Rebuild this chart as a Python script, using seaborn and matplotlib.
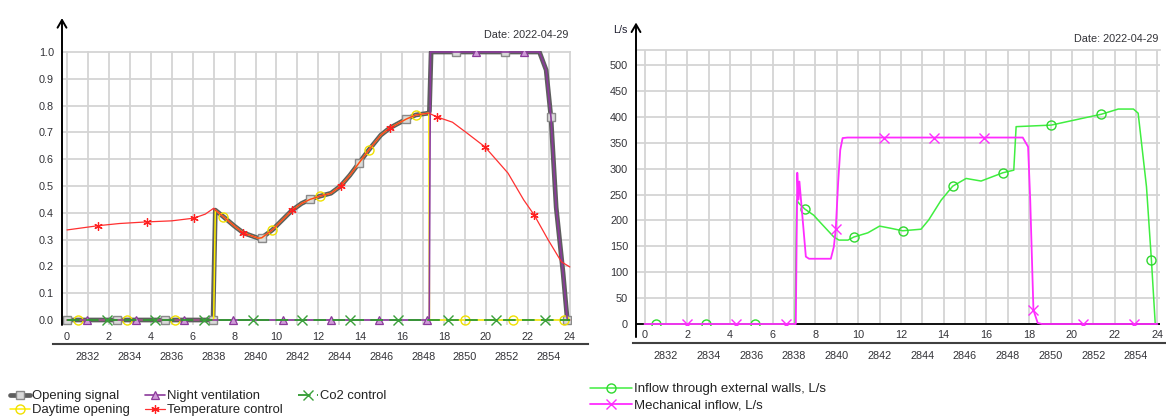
import numpy as np
import matplotlib
matplotlib.use("Agg")
import matplotlib.pyplot as plt
from matplotlib.lines import Line2D
import seaborn as sns

# ---------------- data ----------------
date_label = "Date: 2022-04-29"
hour_ticks = list(range(0, 25, 2))
hour_grid = list(range(0, 25))
hoy_offset = 2831
hoy_ticks = list(range(2832, 2855, 2))
left_yticks = [0.0, 0.1, 0.2, 0.3, 0.4, 0.5, 0.6, 0.7, 0.8, 0.9, 1.0]
right_yticks = [0, 50, 100, 150, 200, 250, 300, 350, 400, 450, 500]
right_unit = "L/s"

left_labels = ["Opening signal", "Daytime opening", "Night ventilation",
               "Temperature control", "Co2 control"]
right_labels = ["Inflow through external walls, L/s", "Mechanical inflow, L/s"]

# shared part of the opening curve (hours 7..17.3)
curve_h = [7.08, 7.47, 8.0, 8.42, 9.14, 9.3, 9.8, 10.3, 10.75, 11.2, 11.6, 12.07,
           12.6, 13.06, 13.5, 13.93, 14.4, 14.98, 15.4, 16.2, 16.65, 17.27]
curve_v = [0.41, 0.385, 0.35, 0.325, 0.305, 0.307, 0.336, 0.375, 0.41, 0.435, 0.45,
           0.462, 0.473, 0.50, 0.54, 0.585, 0.634, 0.69, 0.716, 0.75, 0.765, 0.772]

opening_h = [0.0, 2.37, 4.67, 6.97] + curve_h + [17.3, 17.38, 18.55, 20.9, 22.55,
                                                  22.87, 23.1, 23.35, 23.68, 23.88, 24.0]
opening_v = [0, 0, 0, 0] + curve_v + [0.78, 1.0, 1.0, 1.0, 1.0,
                                      0.933, 0.757, 0.42, 0.175, 0.0, 0.0]
opening_mark_h = [0.0, 2.37, 4.67, 6.97, 9.3, 11.6, 13.93, 16.2, 18.55, 20.9, 23.1, 23.88]

daytime_h = [0.0, 0.54, 2.86, 5.15, 7.0] + curve_h + [17.3, 19.0, 21.3, 23.7, 24.0]
daytime_v = [0, 0, 0, 0, 0] + curve_v + [0, 0, 0, 0, 0]
daytime_mark_h = [0.54, 2.86, 5.15, 7.47, 9.8, 12.07, 14.4, 16.65, 19.0, 21.3, 23.7]

night_h = [0.0, 0.97, 3.3, 5.6, 7.93, 10.3, 12.6, 14.9, 17.2, 17.29, 17.35, 19.5,
           21.8, 22.55, 22.87, 23.1, 23.35, 23.68, 23.88, 24.0]
night_v = [0, 0, 0, 0, 0, 0, 0, 0, 0, 0, 1.0, 1.0, 1.0, 1.0, 0.933, 0.757, 0.42,
           0.175, 0.0, 0.0]
night_mark_h = [0.97, 3.3, 5.6, 7.93, 10.3, 12.6, 14.9, 17.2, 19.5, 21.8]

temp_h = [0.0, 1.5, 2.5, 3.8, 5.0, 6.05, 6.6, 7.0] + curve_h + [
    17.65, 18.4, 19.1, 19.95, 21.05, 21.8, 22.3, 22.96, 23.6, 24.0]
temp_v = [0.336, 0.352, 0.36, 0.366, 0.37, 0.38, 0.395, 0.417] + curve_v + [
    0.758, 0.738, 0.697, 0.646, 0.548, 0.448, 0.392, 0.30, 0.217, 0.198]
temp_mark_h = [1.5, 3.8, 6.05, 8.42, 10.75, 13.06, 15.4, 17.65, 19.95, 22.3]

co2_h = [0.0, 1.93, 4.2, 6.55, 8.87, 11.2, 13.5, 15.8, 18.2, 20.5, 22.8, 24.0]
co2_v = [0] * 12
co2_mark_h = [1.93, 4.2, 6.55, 8.87, 11.2, 13.5, 15.8, 18.2, 20.5, 22.8]

walls_h = [0.0, 0.52, 2.86, 5.16, 7.05, 7.12, 7.25, 7.5, 7.92, 8.25, 8.86, 9.1, 9.52,
           9.8, 10.45, 11.0, 11.5, 12.08, 12.94, 13.3, 13.88, 14.42, 15.05, 15.75,
           16.77, 17.28, 17.39, 19.03, 21.38, 22.17, 22.88, 23.1, 23.49, 23.72, 23.9]
walls_v = [0, 0, 0, 0, 0, 239, 232, 222, 210, 195, 168, 162, 162, 168, 176, 189, 185,
           180, 183, 201, 239, 266, 281, 276, 292, 297, 381, 384, 405, 415, 415, 407,
           265, 124, 0]
walls_mark_h = [0.52, 2.86, 5.16, 7.5, 9.8, 12.08, 14.42, 16.77, 19.03, 21.38, 23.72]

mech_h = [0.0, 1.97, 4.27, 6.6, 7.08, 7.15, 7.2, 7.25, 7.55, 7.7, 8.72, 8.86, 8.95,
          9.06, 9.16, 9.27, 9.5, 11.2, 13.55, 15.9, 17.7, 17.95, 18.05, 18.2, 18.4,
          18.6, 20.5, 22.9, 24.0]
mech_v = [0, 0, 0, 0, 0, 292, 240, 275, 130, 126, 126, 149, 183, 272, 336, 359, 360,
          360, 360, 360, 360, 342, 239, 27, 2, 0, 0, 0, 0]
mech_mark_h = [1.97, 4.27, 6.6, 8.95, 11.2, 13.55, 15.9, 18.2, 20.5, 22.9]

# ---------------- styling ----------------
sns.set_style("white")
plt.rcParams["font.family"] = ["Liberation Sans", "DejaVu Sans"]
TXT = "#333338"
GRID = "#d4d4d4"
W, H = 1166, 417
fig = plt.figure(figsize=(W / 100, H / 100), dpi=100)


def fx(px):
    return px / W


def fy(py):
    return 1 - py / H


def marks(hs, mh):
    return [hs.index(t) for t in mh]


STY = {
    "opening": dict(color="#5e5e5e", lw=3.4, marker="s", ms=6, mfc="#d9d9d9",
                    mec="#8a8a8a", mew=1.0, zorder=3),
    "daytime": dict(color="#ffee00", lw=1.1, marker="o", ms=6.5, mfc="none",
                    mec="#f0e000", mew=1.0, zorder=4),
    "night": dict(color="#8b3a9b", lw=1.2, marker="^", ms=5.5, mfc="#cf9ad8",
                  mec="#8b3a9b", mew=0.9, zorder=5),
    "temp": dict(color="#ff3030", lw=0.9, marker=(6, 2, 0), ms=6, mfc="#ff2020",
                 mec="#ff2020", mew=0.9, zorder=6),
    "co2": dict(color="#2f9a2f", lw=1.3, ls=(0, (7, 3.5)), marker="x", ms=6.5,
                mec="#3aa03a", mew=1.0, zorder=7),
    "walls": dict(color="#40ee40", lw=1.1, marker="o", ms=6.5, mfc="none",
                  mec="#30d830", mew=1.0, zorder=4),
    "mech": dict(color="#ff2cff", lw=1.3, marker="x", ms=6.5, mec="#ff2cff",
                 mew=1.0, zorder=5),
}

# ---------------- left panel ----------------
axL = fig.add_axes([fx(62), fy(325), fx(571) - fx(62), fy(51) - fy(325)])
h0L, sL = 67, 20.95
axL.set_xlim((62 - h0L) / sL, (571 - h0L) / sL)
axL.set_ylim(-5 / 268, 1 + 1 / 268)

series_left = [
    (opening_h, opening_v, opening_mark_h, "opening"),
    (daytime_h, daytime_v, daytime_mark_h, "daytime"),
    (night_h, night_v, night_mark_h, "night"),
    (temp_h, temp_v, temp_mark_h, "temp"),
    (co2_h, co2_v, co2_mark_h, "co2"),
]
for hs, vs, mh, key in series_left:
    st = dict(STY[key])
    z = st.pop("zorder")
    sns.lineplot(x=hs, y=vs, ax=axL, estimator=None, sort=False,
                 markevery=marks(hs, mh), zorder=z, **st)

# ---------------- right panel ----------------
axR = fig.add_axes([fx(636), fy(325), fx(1160) - fx(636), fy(50) - fy(325)])
h0R, sR = 644.5, 21.37
axR.set_xlim((636 - h0R) / sR, (1160 - h0R) / sR)
axR.set_ylim(-1.93, 529)
axR.axhline(0, color="black", lw=1.3, zorder=3)
for hs, vs, mh, key in [(walls_h, walls_v, walls_mark_h, "walls"),
                        (mech_h, mech_v, mech_mark_h, "mech")]:
    st = dict(STY[key])
    z = st.pop("zorder")
    sns.lineplot(x=hs, y=vs, ax=axR, estimator=None, sort=False,
                 markevery=marks(hs, mh), zorder=z, **st)

# ---------------- common axes styling ----------------
for ax, yt, pad_x, arrow_bottom, arrow_top in [
        (axL, left_yticks, 5.3, 0.0, 1.12), (axR, right_yticks, 3.6, -0.044, 1.10)]:
    ax.set_xticks(hour_ticks)
    ax.set_xticks(hour_grid, minor=True)
    ax.set_xticklabels([str(t) for t in hour_ticks])
    ax.set_yticks(yt)
    if ax is axL:
        ax.set_yticklabels([f"{t:.1f}" for t in yt])
    else:
        ax.set_yticklabels([str(t) for t in yt])
    ax.grid(True, which="both", axis="x", color=GRID, lw=1.3, zorder=0)
    ax.grid(True, which="major", axis="y", color=GRID, lw=1.3, zorder=0)
    ax.set_axisbelow(True)
    ax.tick_params(axis="x", which="both", length=0, pad=pad_x, labelsize=7.8,
                   labelcolor=TXT)
    ax.tick_params(axis="y", which="major", direction="inout", length=9.5, width=1.2,
                   color="black", pad=1.0, labelsize=7.8, labelcolor=TXT)
    for sp in ["left", "right", "bottom", "top"]:
        ax.spines[sp].set_visible(False)
    ax.set_xlabel("")
    ax.set_ylabel("")
    ax.annotate("", xy=(0, arrow_top), xytext=(0, arrow_bottom),
                xycoords="axes fraction", textcoords="axes fraction",
                arrowprops=dict(arrowstyle="->,head_length=0.55,head_width=0.32",
                                color="black", lw=1.4, shrinkA=0, shrinkB=0),
                annotation_clip=False)
    if ax.get_legend() is not None:
        ax.get_legend().remove()

axR.spines["top"].set_visible(True)
axR.spines["top"].set_color(GRID)
axR.spines["top"].set_linewidth(1.3)

# ---------------- secondary (hour of year) axes ----------------
for (pxl, pxr, py, h0, s) in [(53, 588, 344, h0L, sL), (633, 1166, 343, h0R, sR)]:
    ax2 = fig.add_axes([fx(pxl), fy(py), fx(pxr) - fx(pxl), 0.0001])
    ax2.set_xlim((pxl - h0) / s + hoy_offset, (pxr - h0) / s + hoy_offset)
    ax2.set_ylim(0, 1)
    ax2.set_xticks(hoy_ticks)
    ax2.set_xticklabels([str(t) for t in hoy_ticks])
    ax2.set_yticks([])
    ax2.patch.set_alpha(0)
    for sp in ["left", "right", "top"]:
        ax2.spines[sp].set_visible(False)
    ax2.spines["bottom"].set_color("#404040")
    ax2.spines["bottom"].set_linewidth(1.5)
    ax2.tick_params(axis="x", direction="inout", length=6, width=1.2, color="#303030",
                    pad=2.5, labelsize=7.8, labelcolor=TXT)

# ---------------- texts ----------------
fig.text(fx(568), fy(35), date_label, ha="right", va="center", fontsize=7.8, color=TXT)
fig.text(fx(1158), fy(39.5), date_label, ha="right", va="center", fontsize=7.8, color=TXT)
fig.text(fx(628), fy(30), right_unit, ha="right", va="center", fontsize=7.8,
         color="#222233")


# ---------------- legends ----------------
def proxy(key):
    st = dict(STY[key])
    st.pop("zorder")
    return Line2D([], [], **st)


left_handles = [proxy("opening"), proxy("daytime"), proxy("night"), proxy("temp"),
                proxy("co2")]
fig.legend(left_handles, left_labels, loc="upper left",
           bbox_to_anchor=(fx(10), fy(390)), ncol=3, frameon=False, fontsize=9.4,
           handlelength=1.55, handletextpad=0.15, columnspacing=1.15,
           labelspacing=0.15, borderpad=0, borderaxespad=0, numpoints=1,
           labelcolor="#222222")

right_handles = [proxy("walls"), proxy("mech")]
fig.legend(right_handles, right_labels, loc="upper left",
           bbox_to_anchor=(fx(590), fy(383)), ncol=1, frameon=False, fontsize=9.5,
           handlelength=3.2, handletextpad=0.15, labelspacing=0.28,
           borderpad=0, borderaxespad=0, numpoints=1, labelcolor="#222222")

fig.savefig("out.png", dpi=100)
